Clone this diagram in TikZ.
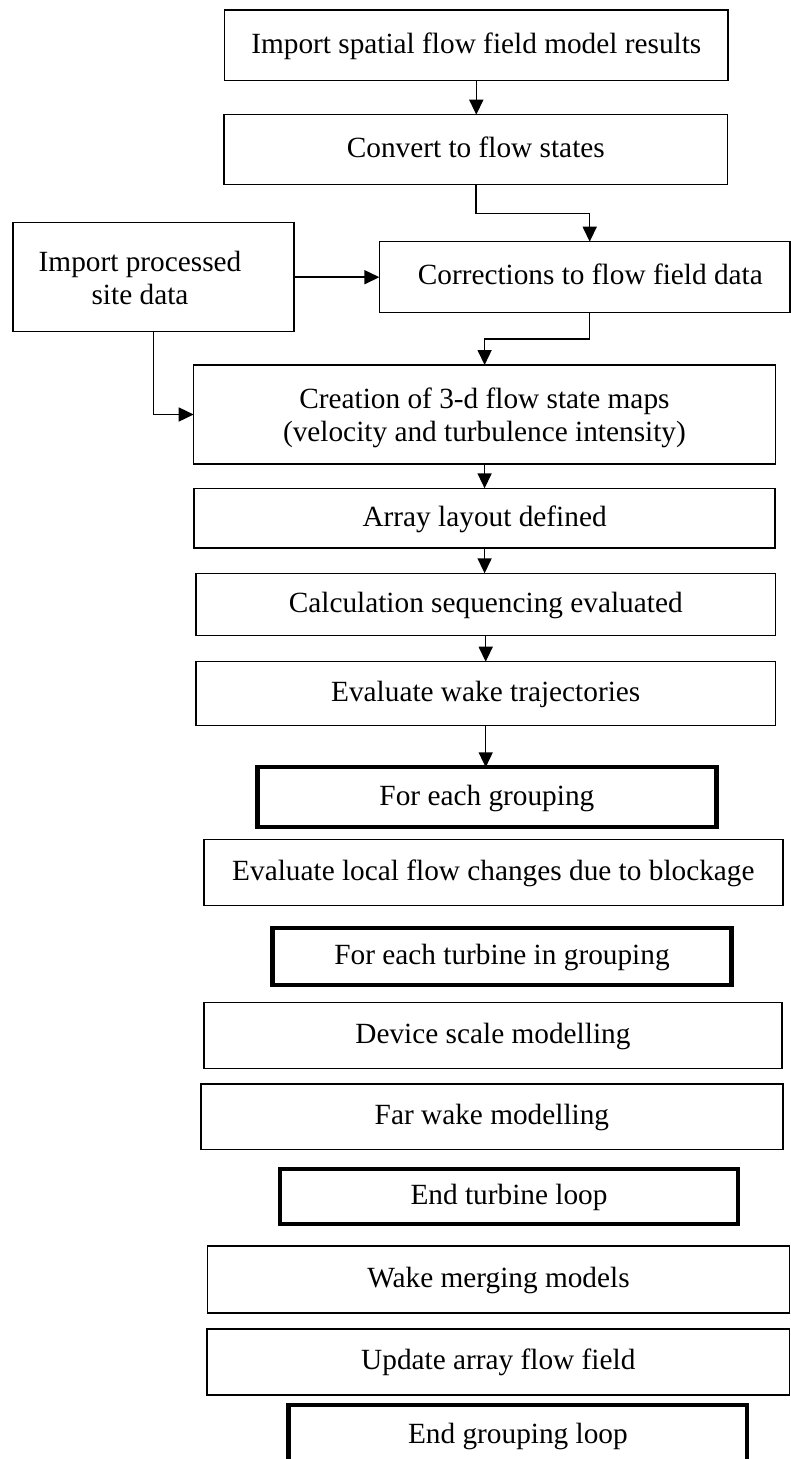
\documentclass[tikz,border=0pt]{standalone}
\usepackage{fontspec}
\setmainfont{Liberation Serif}
\usetikzlibrary{arrows.meta}
\newcommand{\fs}{\fontsize{29.3pt}{33.5pt}\selectfont}
\begin{document}
\begin{tikzpicture}[x=1pt,y=-1pt,
  box/.style={draw, line width=1.5pt, rectangle, inner sep=0pt, outer sep=0pt, font=\fs, text height=16pt, text depth=0pt},
  thickbox/.style={box, line width=4.3pt},
  txt/.style={inner sep=0pt, outer sep=0pt, font=\fs, anchor=base},
  arr/.style={line width=1.5pt, -{Triangle[width=14pt,length=15pt]}}]
\useasboundingbox (0,0) rectangle (791,1459);
\clip (0,0) rectangle (791,1459);

\node[box, minimum width=503.5pt, minimum height=70.7pt] (imp) at (476.3,45.3) {Import spatial flow field model results};
\node[box, minimum width=503.5pt, minimum height=69.6pt] (conv) at (475.8,149.5) {Convert to flow states};
\node[box, minimum width=410.6pt, minimum height=71pt] (corr) at (584.7,277.2) {};
\node[txt] (corrt) at (590.3,284.9) {Corrections to flow field data};
\node[box, minimum width=281pt, minimum height=109pt] (site) at (153.5,277.2) {};
\node[txt] (site1) at (140,271.2) {Import processed};
\node[txt] (site2) at (140,304.7) {site data};
\node[box, minimum width=581.8pt, minimum height=99pt] (crea) at (484.6,414.5) {};
\node[txt] (crea1) at (484.4,408.2) {Creation of 3-d flow state maps};
\node[txt] (crea2) at (484.4,441.5) {(velocity and turbulence intensity)};
\node[box, minimum width=580.8pt, minimum height=59.7pt] (arr) at (484.6,518.2) {Array layout defined};
\node[box, minimum width=579.7pt, minimum height=62.4pt] (calc) at (485.7,604.5) {Calculation sequencing evaluated};
\node[box, minimum width=579.7pt, minimum height=63.6pt] (wake) at (485.7,693.5) {Evaluate wake trajectories};
\node[thickbox, minimum width=459.1pt, minimum height=59.4pt] (grp) at (486.9,797) {For each grouping};
\node[box, minimum width=579.2pt, minimum height=66.4pt] (local) at (493.4,872.5) {Evaluate local flow changes due to blockage};
\node[thickbox, minimum width=459.2pt, minimum height=57.6pt] (turb) at (502,956.5) {For each turbine in grouping};
\node[box, minimum width=578.2pt, minimum height=66pt] (dev) at (492.9,1035.3) {Device scale modelling};
\node[box, minimum width=582.2pt, minimum height=65.3pt] (far) at (491.9,1116.7) {Far wake modelling};
\node[thickbox, minimum width=458pt, minimum height=55.6pt] (endt) at (509,1196.5) {End turbine loop};
\node[box, minimum width=582.2pt, minimum height=66.7pt] (merge) at (498.5,1279.4) {Wake merging models};
\node[box, minimum width=582.7pt, minimum height=66.3pt] (upd) at (498.3,1361.9) {Update array flow field};
\node[thickbox, minimum width=458.6pt, minimum height=60pt] (endg) at (517.9,1435) {End grouping loop};

\draw[arr] (imp.south) -- (imp.south |- conv.north);
\draw[arr] (conv.south) -- ++(0,29) -| ([xshift=5pt]corr.north);
\draw[arr] (site.east |- corr.west) -- (corr.west);
\draw[arr] ([xshift=5pt]corr.south) -- ++(0,26.3) -| (crea.north);
\draw[arr] (site.south) |- (crea.west);
\draw[arr] (crea.south) -- (crea.south |- arr.north);
\draw[arr] (arr.south) -- (arr.south |- calc.north);
\draw[arr] (calc.south) -- (calc.south |- wake.north);
\draw[arr] (wake.south) -- (wake.south |- grp.north);
\end{tikzpicture}
\end{document}
